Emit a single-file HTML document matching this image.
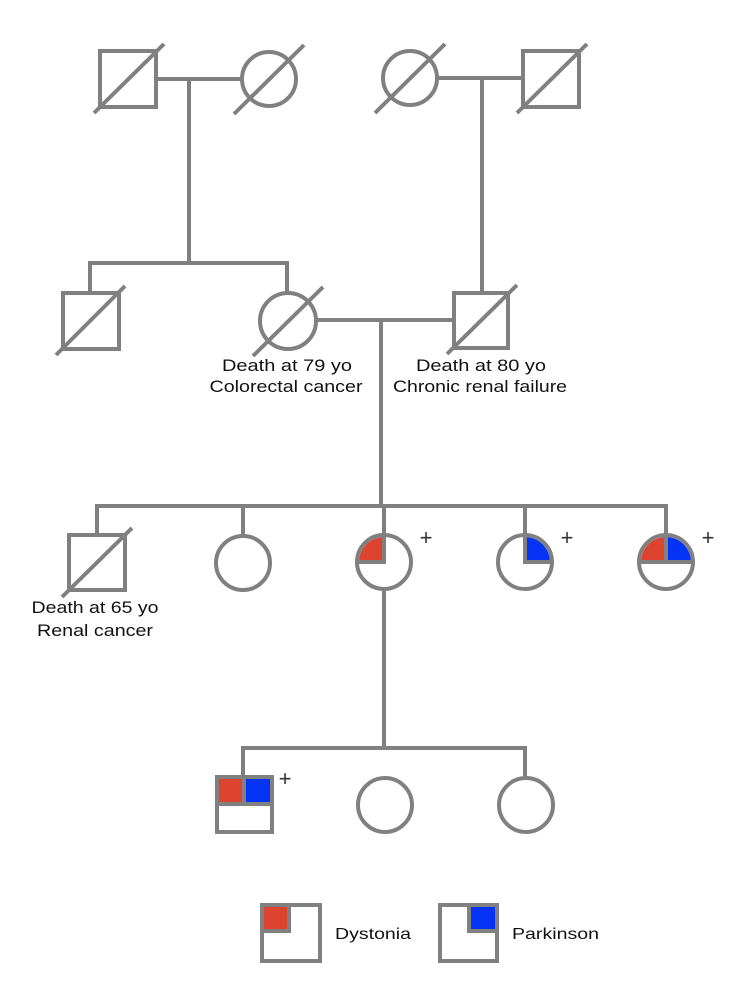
<!DOCTYPE html>
<html><head><meta charset="utf-8"><style>html,body{margin:0;padding:0;background:#fff}svg{display:block}</style></head>
<body>
<svg width="746" height="986" viewBox="0 0 746 986" xmlns="http://www.w3.org/2000/svg">
<g stroke="#808080" stroke-width="4" fill="none">
<rect x="100" y="51" width="56" height="56"/>
<line x1="94" y1="113" x2="164" y2="44"/>
<circle cx="269" cy="79" r="27"/>
<line x1="234" y1="114" x2="304" y2="45"/>
<line x1="156" y1="79" x2="242" y2="79"/>
<line x1="189" y1="79" x2="189" y2="263"/>
<circle cx="410" cy="78" r="27"/>
<line x1="375" y1="113" x2="445" y2="44"/>
<rect x="523" y="51" width="56" height="56"/>
<line x1="517" y1="113" x2="587" y2="44"/>
<line x1="437" y1="78" x2="523" y2="78"/>
<line x1="482" y1="78" x2="482" y2="292"/>
<polyline points="90,292 90,263 287,263 287,293"/>
<rect x="63" y="293" width="56" height="56"/>
<line x1="56" y1="355" x2="125" y2="286"/>
<circle cx="288" cy="321" r="28"/>
<line x1="253" y1="356" x2="323" y2="287"/>
<rect x="454" y="293" width="54" height="55"/>
<line x1="447" y1="354" x2="517" y2="285"/>
<line x1="316" y1="320" x2="454" y2="320"/>
<line x1="381" y1="320" x2="381" y2="506"/>
<polyline points="97,534 97,506 666,506 666,536"/>
<line x1="243" y1="506" x2="243" y2="536"/>
<line x1="384" y1="506" x2="384" y2="535"/>
<line x1="525" y1="506" x2="525" y2="535"/>
<rect x="69" y="535" width="56" height="55"/>
<line x1="62" y1="597" x2="132" y2="528"/>
<circle cx="243" cy="563" r="27"/>
</g>
<path d="M384,562 L384,537 A25,25 0 0 0 359,562 Z" fill="#de4330"/>
<path d="M525,562 L525,537 A25,25 0 0 1 550,562 Z" fill="#0433f5"/>
<path d="M666,562 L666,537 A25,25 0 0 0 641,562 Z" fill="#de4330"/>
<path d="M666,562 L666,537 A25,25 0 0 1 691,562 Z" fill="#0433f5"/>
<g stroke="#808080" stroke-width="4" fill="none">
<circle cx="384" cy="562" r="27"/>
<line x1="357" y1="562" x2="386" y2="562"/>
<line x1="384" y1="535" x2="384" y2="562"/>
<circle cx="525" cy="562" r="27"/>
<line x1="523" y1="562" x2="552" y2="562"/>
<line x1="525" y1="535" x2="525" y2="562"/>
<circle cx="666" cy="562" r="27"/>
<line x1="639" y1="562" x2="693" y2="562"/>
<line x1="666" y1="535" x2="666" y2="562"/>
<line x1="384" y1="589" x2="384" y2="748"/>
<polyline points="243,777 243,748 525,748 525,778"/>
<circle cx="385" cy="805" r="27"/>
<circle cx="526" cy="805" r="27"/>
</g>
<rect x="218" y="778" width="26" height="26" fill="#de4330"/>
<rect x="244" y="778" width="27" height="26" fill="#0433f5"/>
<g stroke="#808080" stroke-width="4" fill="none">
<rect x="217" y="777" width="55" height="55"/>
<line x1="217" y1="804" x2="272" y2="804"/>
<line x1="244" y1="777" x2="244" y2="804"/>
</g>
<rect x="264" y="906" width="25" height="25" fill="#de4330"/>
<rect x="469" y="906" width="26" height="25" fill="#0433f5"/>
<g stroke="#808080" stroke-width="4" fill="none">
<rect x="262" y="905" width="58" height="56"/>
<polyline points="264,931 289,931 289,906"/>
<rect x="440" y="905" width="57" height="56"/>
<polyline points="469,906 469,931 495,931"/>
</g>
<g font-family="Liberation Sans, sans-serif" font-size="17" fill="#111" text-anchor="middle">
<text x="287" y="371" textLength="130" lengthAdjust="spacingAndGlyphs">Death at 79 yo</text>
<text x="286" y="392" textLength="153" lengthAdjust="spacingAndGlyphs">Colorectal cancer</text>
<text x="481" y="371" textLength="130" lengthAdjust="spacingAndGlyphs">Death at 80 yo</text>
<text x="480" y="392" textLength="174" lengthAdjust="spacingAndGlyphs">Chronic renal failure</text>
<text x="95" y="613" textLength="127" lengthAdjust="spacingAndGlyphs">Death at 65 yo</text>
<text x="95" y="636" textLength="116" lengthAdjust="spacingAndGlyphs">Renal cancer</text>
</g>
<g font-family="Liberation Sans, sans-serif" font-size="16" fill="#111">
<text x="335" y="939" textLength="76" lengthAdjust="spacingAndGlyphs">Dystonia</text>
<text x="512" y="939" textLength="87" lengthAdjust="spacingAndGlyphs">Parkinson</text>
</g>
<g font-family="Liberation Sans, sans-serif" font-size="22" fill="#333" text-anchor="middle">
<text x="426" y="545">+</text>
<text x="567" y="545">+</text>
<text x="708" y="545">+</text>
<text x="285" y="786">+</text>
</g>
</svg>
</body></html>
